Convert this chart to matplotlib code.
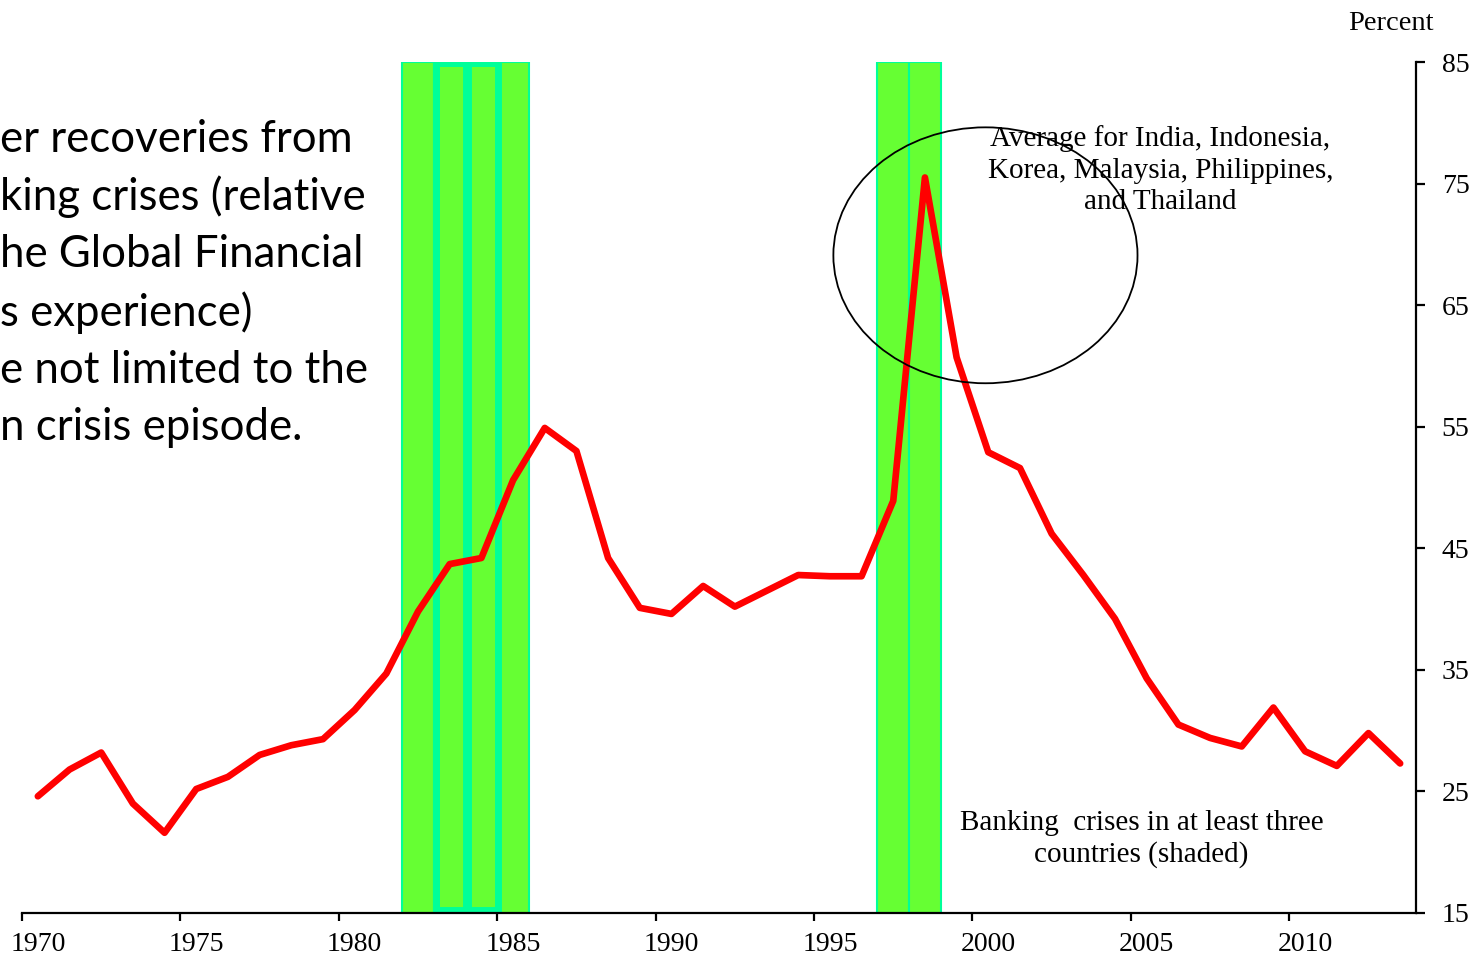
import numpy as np
import matplotlib
matplotlib.use('Agg')
import matplotlib.pyplot as plt
from matplotlib.patches import Ellipse

# Average for India, Indonesia, Korea, Malaysia, Philippines and Thailand (percent)
years = np.arange(1970, 2014)
values = [24.6, 26.8, 28.2, 24.0, 21.6, 25.2, 26.2, 28.0, 28.8, 29.3,
          31.7, 34.7, 39.8, 43.7, 44.2, 50.6, 54.9, 53.0, 44.2, 40.1,
          39.6, 41.9, 40.2, 41.5, 42.8, 42.7, 42.7, 48.9, 75.5, 60.7,
          52.9, 51.6, 46.2, 42.8, 39.2, 34.3, 30.5, 29.4, 28.7, 31.9,
          28.3, 27.1, 29.8, 27.3]

# years with banking crises in at least three countries
crisis_years = [1982, 1983, 1984, 1985, 1997, 1998]
crisis_years_bold = [1983, 1984]

tick_years = list(range(1970, 2011, 5))
y_ticks = [15, 25, 35, 45, 55, 65, 75, 85]

side_lines = ['er recoveries from',
              'king crises (relative',
              'he Global Financial',
              's experience)',
              'e not limited to the',
              'n crisis episode.']

serif = 'Liberation Serif'

fig = plt.figure(figsize=(14.76, 9.6), dpi=100)
ax = fig.add_axes([22 / 1476, 1 - 913 / 960, (1416 - 22) / 1476, (913 - 62) / 960])

ymin, ymax = 15, 85

# shaded crisis years
cx = np.array(crisis_years) + 0.5
ax.bar(cx, ymax - ymin, bottom=ymin, width=1.0, color='#66FF33',
       edgecolor='#00FF99', linewidth=1.5, zorder=1)
bx = np.array(crisis_years_bold) + 0.55
ax.bar(bx, 84.9 - 15.25, bottom=15.25, width=0.95, color='#66FF33',
       edgecolor='#00FF99', linewidth=5, zorder=1)

# main line, each year plotted in the middle of its slot
ax.plot(years + 0.5, values, color='red', linewidth=4.8, zorder=3,
        solid_capstyle='round')

ax.set_xlim(1970, 2014)
ax.set_ylim(ymin, ymax)

for s in ['left', 'top']:
    ax.spines[s].set_visible(False)
ax.spines['bottom'].set_linewidth(1.6)
ax.spines['right'].set_linewidth(1.6)

ax.set_xticks(tick_years)
ax.set_xticklabels([])
ax.set_xticks([y + 0.5 for y in tick_years], minor=True)
ax.set_xticklabels([str(y) for y in tick_years], minor=True,
                   fontfamily=serif, fontsize=20)
ax.tick_params(axis='x', which='major', direction='out', length=6, width=1.6)
ax.tick_params(axis='x', which='minor', length=0, pad=14)

ax.yaxis.tick_right()
ax.set_yticks(y_ticks)
ax.set_yticklabels([str(v) for v in y_ticks], fontfamily=serif, fontsize=20)
ax.tick_params(axis='y', direction='out', length=6.5, width=1.6, pad=12)

# circled annotation
ax.add_patch(Ellipse((2000.41, 69.1), 9.6, 21.05, fill=False,
                     edgecolor='black', linewidth=1.3, zorder=4))
ax.text(2005.93, 76.1, 'Average for India, Indonesia,\nKorea, Malaysia, Philippines,\nand Thailand',
        ha='center', va='center', fontfamily=serif, fontsize=21,
        linespacing=1.26, zorder=5)
ax.text(2005.33, 21.1, 'Banking  crises in at least three\ncountries (shaded)',
        ha='center', va='center', fontfamily=serif, fontsize=21,
        linespacing=1.25, zorder=5)

fig.text(1391 / 1476, 1 - 23 / 960, 'Percent', ha='center', va='center',
         fontfamily=serif, fontsize=20.5)

# slide text, cut off at the left edge
for i, line in enumerate(side_lines):
    fig.text(0.0, 1 - (139 + i * 57.8) / 960, line, ha='left', va='center',
             fontfamily='Lato', fontsize=31.5)

fig.savefig('out.png', dpi=100)
